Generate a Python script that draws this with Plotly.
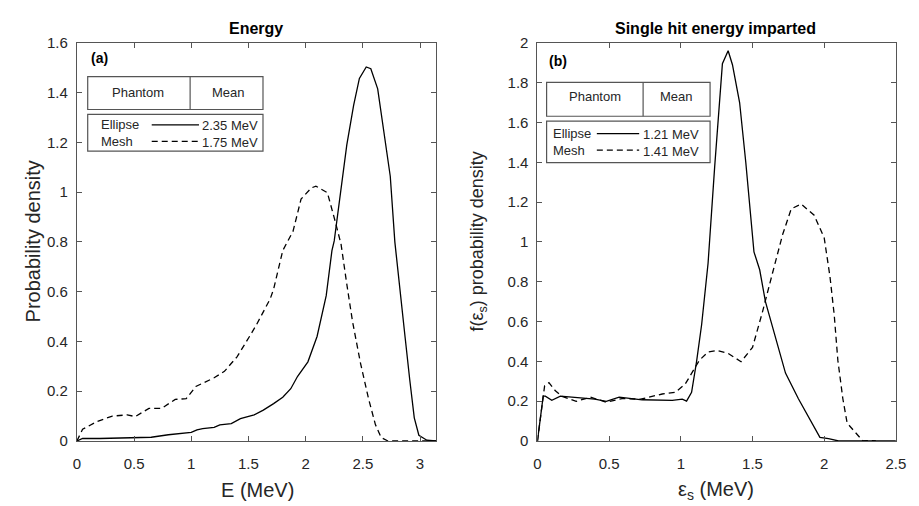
import plotly.graph_objects as go

# Panel (a): Energy
e_ell_x = [0, 0.05, 0.2, 0.5, 0.65, 0.8, 0.95, 1.0, 1.05, 1.1, 1.2, 1.25, 1.35, 1.43, 1.55, 1.63, 1.72, 1.80,
           1.87, 1.93, 2.02, 2.1, 2.18, 2.23, 2.25, 2.30, 2.36, 2.42, 2.47, 2.53, 2.57, 2.63, 2.68, 2.74, 2.78,
           2.83, 2.87, 2.91, 2.95, 2.99, 3.03, 3.06, 3.14]
e_ell_y = [0, 0.01, 0.01, 0.015, 0.015, 0.025, 0.033, 0.035, 0.045, 0.05, 0.055, 0.065, 0.07, 0.09, 0.105, 0.124, 0.15, 0.176,
           0.21, 0.26, 0.318, 0.42, 0.584, 0.765, 0.804, 0.97, 1.19, 1.35, 1.457, 1.503, 1.496, 1.415, 1.25, 1.064, 0.80,
           0.60, 0.416, 0.247, 0.093, 0.023, 0.01, 0.003, 0]
e_mesh_x = [0, 0.05, 0.18, 0.31, 0.44, 0.51, 0.63, 0.74, 0.86, 0.956, 1.04, 1.20, 1.29, 1.40, 1.52, 1.57, 1.69, 1.72,
            1.80, 1.89, 1.96, 2.05, 2.09, 2.19, 2.26, 2.31, 2.36, 2.41, 2.48, 2.55, 2.61, 2.66, 2.72, 3.14]
e_mesh_y = [0, 0.047, 0.079, 0.10, 0.105, 0.098, 0.131, 0.131, 0.167, 0.17, 0.219, 0.254, 0.28, 0.338, 0.428, 0.467, 0.571, 0.61,
            0.765, 0.843, 0.972, 1.017, 1.024, 0.998, 0.88, 0.79, 0.63, 0.48, 0.312, 0.17, 0.066, 0.014, 0, 0]

# Panel (b): Single hit energy imparted
s_ell_x = [0, 0.04, 0.055, 0.10, 0.16, 0.30, 0.40, 0.48, 0.57, 0.73, 0.94, 1.01, 1.04, 1.075, 1.11, 1.145, 1.19,
           1.236, 1.27, 1.29, 1.33, 1.36, 1.41, 1.453, 1.51, 1.55, 1.59, 1.66, 1.73, 1.82, 1.91, 1.97, 2.03, 2.10, 2.5]
s_ell_y = [0, 0.225, 0.225, 0.204, 0.225, 0.215, 0.21, 0.199, 0.22, 0.207, 0.204, 0.21, 0.20, 0.244, 0.40, 0.584, 0.893,
           1.377, 1.70, 1.895, 1.96, 1.89, 1.70, 1.40, 0.95, 0.86, 0.70, 0.52, 0.341, 0.212, 0.099, 0.018, 0.012, 0, 0]
s_mesh_x = [0, 0.05, 0.08, 0.125, 0.17, 0.27, 0.37, 0.48, 0.59, 0.72, 0.87, 0.96, 1.03, 1.09, 1.13, 1.19, 1.25, 1.33,
            1.42, 1.50, 1.57, 1.64, 1.71, 1.77, 1.84, 1.93, 2.00, 2.04, 2.07, 2.095, 2.13, 2.16, 2.21, 2.27, 2.32, 2.36]
s_mesh_y = [0, 0.277, 0.293, 0.252, 0.225, 0.199, 0.22, 0.195, 0.213, 0.21, 0.236, 0.244, 0.285, 0.358, 0.406, 0.447, 0.455, 0.44,
            0.398, 0.47, 0.65, 0.845, 1.037, 1.166, 1.19, 1.134, 1.02, 0.827, 0.632, 0.406, 0.212, 0.09, 0.05, 0, 0.003, 0]

x1_ticks = [0, 0.5, 1, 1.5, 2, 2.5, 3]
y1_ticks = [0, 0.2, 0.4, 0.6, 0.8, 1, 1.2, 1.4, 1.6]
x2_ticks = [0, 0.5, 1, 1.5, 2, 2.5]
y2_ticks = [0, 0.2, 0.4, 0.6, 0.8, 1, 1.2, 1.4, 1.6, 1.8, 2]

leg_a = [("Ellipse", "solid", "2.35 MeV"), ("Mesh", "6px,4px", "1.75 MeV")]
leg_b = [("Ellipse", "solid", "1.21 MeV"), ("Mesh", "6px,4px", "1.41 MeV")]

W, H = 919, 506
FONT = "Liberation Sans, Arial, sans-serif"
AX = "#555555"

fig = go.Figure()
fig.add_trace(go.Scatter(x=e_ell_x, y=e_ell_y, mode="lines", line=dict(color="black", width=1.3),
                         xaxis="x", yaxis="y", showlegend=False))
fig.add_trace(go.Scatter(x=e_mesh_x, y=e_mesh_y, mode="lines", line=dict(color="black", width=1.3, dash="6px,4px"),
                         xaxis="x", yaxis="y", showlegend=False))
fig.add_trace(go.Scatter(x=s_ell_x, y=s_ell_y, mode="lines", line=dict(color="black", width=1.3),
                         xaxis="x2", yaxis="y2", showlegend=False))
fig.add_trace(go.Scatter(x=s_mesh_x, y=s_mesh_y, mode="lines", line=dict(color="black", width=1.3, dash="6px,4px"),
                         xaxis="x2", yaxis="y2", showlegend=False))


def px(x):
    return x / W


def py(y):
    return 1 - y / H


ydom = [py(447), py(35)]
axcommon = dict(showline=True, linecolor=AX, linewidth=1, mirror="ticks", ticks="inside", ticklen=5,
                tickcolor=AX, showgrid=False, zeroline=False,
                tickfont=dict(family=FONT, size=15, color="#262626"))
fig.update_layout(
    width=W, height=H, margin=dict(l=0, r=0, t=0, b=0),
    paper_bgcolor="white", plot_bgcolor="white", showlegend=False,
    xaxis=dict(domain=[px(74), px(438.7)], range=[0, 3.14], tickvals=x1_ticks, anchor="y",
               ticklabelstandoff=9, **axcommon),
    yaxis=dict(domain=ydom, range=[0, 1.6], tickvals=y1_ticks, anchor="x", ticklabelstandoff=5, **axcommon),
    xaxis2=dict(domain=[px(541.7), px(905.7)], range=[0, 2.5], tickvals=x2_ticks, anchor="y2",
                ticklabelstandoff=9, **axcommon),
    yaxis2=dict(domain=ydom, range=[0, 2], tickvals=y2_ticks, anchor="x2", ticklabelstandoff=5, **axcommon),
)

shapes = []
ann = []


def text(x, y, s, size=12, bold=False, xanchor="left", angle=0):
    if bold:
        s = "<b>" + s + "</b>"
    ann.append(dict(x=px(x), y=py(y), xref="paper", yref="paper", text=s, showarrow=False,
                    xanchor=xanchor, yanchor="middle", textangle=angle,
                    font=dict(family=FONT, size=size, color="#262626" if not bold else "black")))


def rect(x0, y0, x1, y1):
    shapes.append(dict(type="rect", xref="paper", yref="paper", x0=px(x0), x1=px(x1), y0=py(y1), y1=py(y0),
                       line=dict(color=AX, width=1.2), fillcolor="white", layer="above"))


def hline(x0, x1, y, dash):
    shapes.append(dict(type="line", xref="paper", yref="paper", x0=px(x0), x1=px(x1), y0=py(y), y1=py(y),
                       line=dict(color="black", width=1.2, dash=dash), layer="above"))


def vline(x, y0, y1):
    shapes.append(dict(type="line", xref="paper", yref="paper", x0=px(x), x1=px(x), y0=py(y0), y1=py(y1),
                       line=dict(color=AX, width=1.2), layer="above"))


# Titles
text(256, 20, "Energy", 16, True, "center")
text(723, 20, "Single hit energy imparted", 16, True, "center")
text(86, 51, "(a)", 14, True)
text(551, 54, "(b)", 14, True)

# axis titles
text(29, 241, "Probability density", 20, False, "center", -90)
text(482, 241, "f(ε<sub>s</sub>) probability density", 18, False, "center", -90)
text(257, 498, "E (MeV)", 20, False, "center")
text(723, 498, "ε<sub>s</sub> (MeV)", 20, False, "center")

# legend (a)
rect(85, 70, 263, 104)
vline(189, 70, 104)
text(136, 86, "Phantom", 13, False, "center")
text(228, 86, "Mean", 13, False, "center")
rect(85, 109, 263, 147)
for i, (name, dash, val) in enumerate(leg_a):
    yy = 120 + i * 17
    text(96, yy, name, 13)
    hline(150, 198, yy, dash)
    text(199, yy + 1, val, 13)

# legend (b)
rect(551, 76, 717, 111)
vline(649, 76, 111)
text(600, 91, "Phantom", 13, False, "center")
text(683, 91, "Mean", 13, False, "center")
rect(551, 116, 717, 159)
for i, (name, dash, val) in enumerate(leg_b):
    yy = 129 + i * 17
    text(555, yy, name, 13)
    hline(602, 645, yy, dash)
    text(647, yy + 1, val, 13)

fig.update_layout(shapes=shapes, annotations=ann)
fig.write_html("out.html")
